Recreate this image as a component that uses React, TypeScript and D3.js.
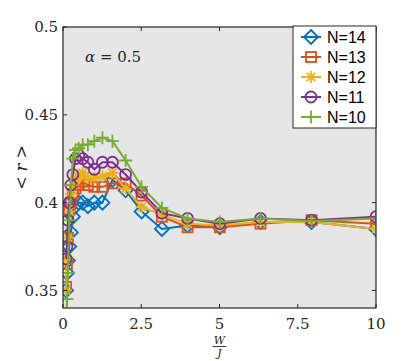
import React from 'react'
import * as d3 from 'd3'

// W/J grid (log spaced, 10^(k/10))
const wValues = [
  0.1, 0.126, 0.158, 0.2, 0.251, 0.316, 0.398, 0.501, 0.631, 0.794, 1, 1.26, 1.58, 2, 2.51, 3.16, 3.98,
  5.01, 6.31, 7.94, 10,
]

const n14 = [
  0.35, 0.36, 0.367, 0.375, 0.383, 0.392, 0.398, 0.4, 0.4, 0.398, 0.4, 0.4, 0.413, 0.407, 0.395, 0.385,
  0.387, 0.386, 0.389, 0.389, 0.385,
]
const n13 = [
  0.352, 0.365, 0.38, 0.396, 0.4, 0.405, 0.408, 0.41, 0.412, 0.41, 0.409, 0.409, 0.411, 0.411, 0.404,
  0.392, 0.386, 0.386, 0.388, 0.39, 0.388,
]
const n12 = [
  0.35, 0.368, 0.38, 0.395, 0.405, 0.41, 0.413, 0.415, 0.417, 0.414, 0.414, 0.415, 0.417, 0.408, 0.3975,
  0.393, 0.388, 0.387, 0.389, 0.389, 0.385,
]
const n11 = [
  0.368, 0.375, 0.39, 0.4, 0.41, 0.416, 0.425, 0.427, 0.425, 0.423, 0.419, 0.423, 0.423, 0.416, 0.406,
  0.394, 0.391, 0.388, 0.391, 0.39, 0.392,
]
const n10 = [
  0.33, 0.345, 0.36, 0.39, 0.41, 0.425, 0.43, 0.431, 0.433, 0.433, 0.435, 0.437, 0.435, 0.424, 0.409,
  0.397, 0.391, 0.389, 0.391, 0.3895, 0.391,
]

const xTicks = [0, 2.5, 5, 7.5, 10]
const xTickLabels = ['0', '2.5', '5', '7.5', '10']
const yTicks = [0.35, 0.4, 0.45, 0.5]
const yTickLabels = ['0.35', '0.4', '0.45', '0.5']

const series = [
  { name: 'N=14', values: n14, color: '#0072BD', marker: 'diamond' },
  { name: 'N=13', values: n13, color: '#D95319', marker: 'square' },
  { name: 'N=12', values: n12, color: '#EDB120', marker: 'star' },
  { name: 'N=11', values: n11, color: '#7E2F8E', marker: 'circle' },
  { name: 'N=10', values: n10, color: '#77AC30', marker: 'plus' },
]

const serif = 'DejaVu Serif, Liberation Serif, serif'
const sans = 'Liberation Sans, Arial, sans-serif'

function Marker({ type, x, y, color }: { type: string; x: number; y: number; color: string }) {
  const common = { fill: 'none', stroke: color, strokeWidth: 1.8 }
  if (type === 'diamond') {
    const r = 7
    return <path d={`M${x},${y - r}L${x + r},${y}L${x},${y + r}L${x - r},${y}Z`} {...common} />
  }
  if (type === 'square') {
    const r = 5
    return <rect x={x - r} y={y - r} width={2 * r} height={2 * r} {...common} />
  }
  if (type === 'circle') {
    return <circle cx={x} cy={y} r={5.5} {...common} />
  }
  if (type === 'plus') {
    const r = 6.5
    return <path d={`M${x - r},${y}H${x + r}M${x},${y - r}V${y + r}`} {...common} />
  }
  // star (asterisk)
  const r = 6
  const d = r * 0.7
  return (
    <path
      d={`M${x - r},${y}H${x + r}M${x},${y - r}V${y + r}M${x - d},${y - d}L${x + d},${y + d}M${x - d},${y + d}L${x + d},${y - d}`}
      {...common}
    />
  )
}

export default function App() {
  const W = 415
  const H = 361
  const m = { left: 63, right: 376, top: 27, bottom: 308 }

  const x = d3.scaleLinear().domain([0, 10]).range([m.left, m.right])
  const y = d3.scaleLinear().domain([0.34, 0.5]).range([m.bottom, m.top])

  const line = d3
    .line<number>()
    .x((_, i) => x(wValues[i]))
    .y((v) => y(v))

  const tickLen = 4
  const legend = { x: 293, y: 26, w: 83, h: 102 }

  return (
    <svg width={W} height={H} style={{ position: 'absolute', left: 0, top: 0 }}>
      <defs>
        <clipPath id="plot">
          <rect x={m.left} y={m.top} width={m.right - m.left} height={m.bottom - m.top} />
        </clipPath>
      </defs>
      <rect width={W} height={H} fill="#fff" />
      <rect x={m.left} y={m.top} width={m.right - m.left} height={m.bottom - m.top} fill="#e6e6e6" />

      {/* series */}
      <g clipPath="url(#plot)">
        {series.map((s) => (
          <g key={s.name}>
            <path d={line(s.values) || ''} fill="none" stroke={s.color} strokeWidth={2} />
            {s.values.map((v, i) => (
              <Marker key={i} type={s.marker} x={x(wValues[i])} y={y(v)} color={s.color} />
            ))}
          </g>
        ))}
      </g>

      {/* axes box + ticks */}
      <rect
        x={m.left}
        y={m.top}
        width={m.right - m.left}
        height={m.bottom - m.top}
        fill="none"
        stroke="#262626"
        strokeWidth={1.2}
      />
      {xTicks.map((t, i) => (
        <g key={'x' + t}>
          <line x1={x(t)} x2={x(t)} y1={m.bottom} y2={m.bottom - tickLen} stroke="#262626" />
          <line x1={x(t)} x2={x(t)} y1={m.top} y2={m.top + tickLen} stroke="#262626" />
          <text x={x(t)} y={329} textAnchor="middle" fontFamily={serif} fontSize={15} fill="#262626">
            {xTickLabels[i]}
          </text>
        </g>
      ))}
      {yTicks.map((t, i) => (
        <g key={'y' + t}>
          <line x1={m.left} x2={m.left + tickLen} y1={y(t)} y2={y(t)} stroke="#262626" />
          <line x1={m.right} x2={m.right - tickLen} y1={y(t)} y2={y(t)} stroke="#262626" />
          <text
            x={m.left - 5}
            y={y(t)}
            dy="0.35em"
            textAnchor="end"
            fontFamily={serif}
            fontSize={15}
            fill="#262626"
          >
            {yTickLabels[i]}
          </text>
        </g>
      ))}

      {/* axis labels */}
      <text
        transform={`translate(27,${(m.top + m.bottom) / 2}) rotate(-90)`}
        textAnchor="middle"
        fontFamily={serif}
        fontSize={16}
        fill="#262626"
      >
        {'< '}
        <tspan fontStyle="italic">r</tspan>
        {' >'}
      </text>
      <g fontFamily={serif} fontSize={11} fontStyle="italic" fill="#262626">
        <text x={x(5)} y={344} textAnchor="middle">
          W
        </text>
        <line x1={x(5) - 7} x2={x(5) + 7} y1={346.5} y2={346.5} stroke="#262626" strokeWidth={0.9} />
        <text x={x(5)} y={357} textAnchor="middle">
          J
        </text>
      </g>

      {/* annotation */}
      <text x={85} y={62} fontFamily={serif} fontSize={15} fill="#262626">
        <tspan fontStyle="italic">α</tspan>
        {' = 0.5'}
      </text>

      {/* legend */}
      <rect x={legend.x} y={legend.y} width={legend.w} height={legend.h} fill="#fff" stroke="#262626" strokeWidth={1} />
      {series.map((s, i) => {
        const cy = 37 + i * 20
        return (
          <g key={'leg' + s.name}>
            <line x1={301} x2={321} y1={cy} y2={cy} stroke={s.color} strokeWidth={2} />
            <Marker type={s.marker} x={311} y={cy} color={s.color} />
            <text x={327} y={cy} dy="0.36em" fontFamily={sans} fontSize={16} fill="#000">
              {s.name}
            </text>
          </g>
        )
      })}
    </svg>
  )
}
